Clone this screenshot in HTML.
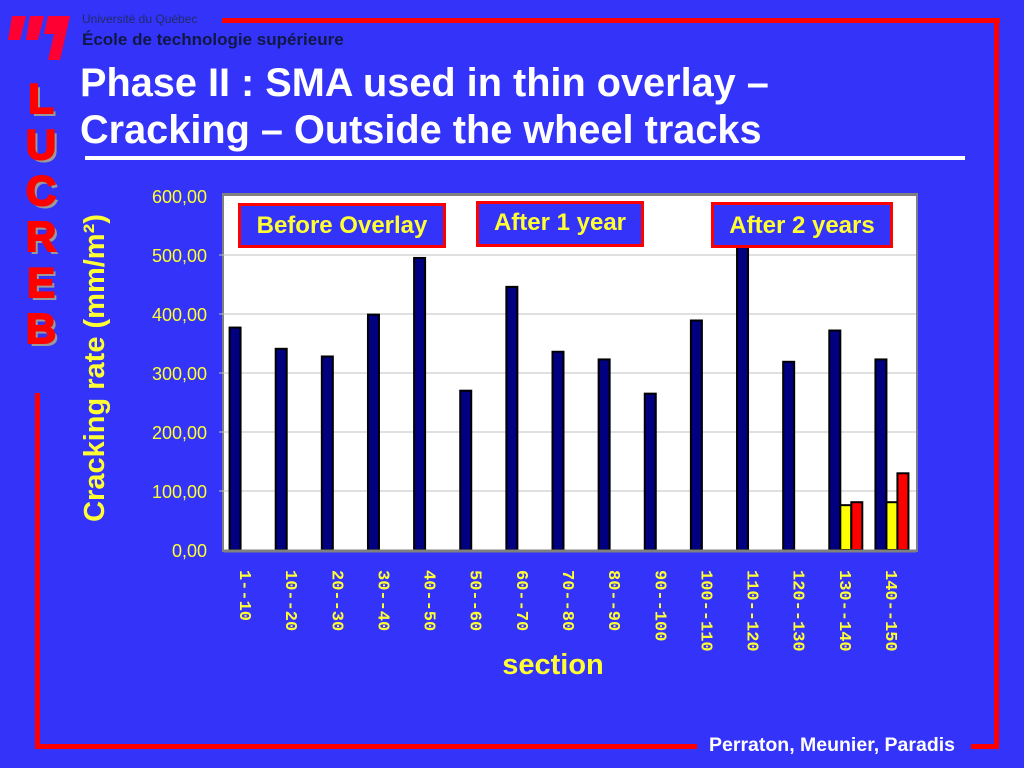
<!DOCTYPE html>
<html><head><meta charset="utf-8"><style>
body{margin:0;width:1024px;height:768px;background:#3333f9;overflow:hidden;font-family:"Liberation Sans",sans-serif;position:relative}
.abs{position:absolute}
.red{background:#f00}
.leg{position:absolute;background:#3333f9;border:3px solid #f00;color:#ffff33;font-weight:bold;font-size:24px;text-align:center;box-sizing:border-box;white-space:nowrap}
</style></head><body>
<div class="abs red" style="left:222px;top:18px;width:778px;height:5px"></div>
<div class="abs red" style="left:994px;top:18px;width:5px;height:731px"></div>
<div class="abs red" style="left:35px;top:744px;width:662px;height:5px"></div>
<div class="abs red" style="left:971px;top:744px;width:28px;height:5px"></div>
<div class="abs red" style="left:35px;top:393px;width:5px;height:356px"></div>
<svg class="abs" style="left:8px;top:14px" width="64" height="48">
<polygon points="4,2 18,2 12,26 0,26" fill="#f03"/><polygon points="22,2 36,2 30,26 18,26" fill="#f03"/><polygon points="40,2 62,2 52,46 40,46 46,20 36,20" fill="#f03"/></svg>
<div class="abs" style="left:82px;top:12px;font-size:12px;color:#222a66">Université du Québec</div>
<div class="abs" style="left:82px;top:30px;font-size:17px;font-weight:bold;color:#111844">École de technologie supérieure</div>
<div class="abs" style="left:18px;top:76px;width:46px;font-size:42px;font-weight:900;color:#f00;line-height:46px;text-align:center;text-shadow:3px 3px 0 #999;-webkit-text-stroke:2px #f00">L<br>U<br>C<br>R<br>E<br>B</div>
<div class="abs" style="left:80px;top:60px;font-size:39.7px;font-weight:bold;color:#fff;line-height:47px;white-space:nowrap">Phase II : SMA used in thin overlay –<br>Cracking – Outside the wheel tracks</div>
<div class="abs" style="left:85px;top:156px;width:880px;height:4px;background:#fff"></div>
<div class="abs" style="left:709px;top:734px;font-size:19.5px;font-weight:bold;color:#fff;white-space:nowrap">Perraton, Meunier, Paradis</div>
<svg class="abs" style="left:0;top:0" width="1024" height="768" id="chart"></svg>
<div class="leg" style="left:238px;top:203px;width:208px;height:45px;line-height:39px">Before Overlay</div>
<div class="leg" style="left:476px;top:201px;width:168px;height:46px;line-height:38px">After 1 year</div>
<div class="leg" style="left:711px;top:202px;width:182px;height:46px;line-height:42px">After 2 years</div>
<script>
const categories=["1--10","10--20","20--30","30--40","40--50","50--60","60--70","70--80","80--90","90--100","100--110","110--120","120--130","130--140","140--150"];
const before=[377,341,328,399,495,270,446,336,323,265,389,540,319,372,323];
const after1=[0,0,0,0,0,0,0,0,0,0,0,0,0,76,81];
const after2=[0,0,0,0,0,0,0,0,0,0,0,0,0,81,130];
const yTicks=[0,100,200,300,400,500,600];
const yLabels=["0,00","100,00","200,00","300,00","400,00","500,00","600,00"];
const NS="http://www.w3.org/2000/svg";
const svg=document.getElementById('chart');
const L=224,R=916,T=196,B=550,ymax=600;
const y=v=>B-(v/ymax)*(B-T);
const bw=(R-L)/categories.length;
const x=i=>L+i*bw;
function mk(t,a){const e=document.createElementNS(NS,t);for(const k in a)e.setAttribute(k,a[k]);svg.appendChild(e);return e;}
let e=mk('rect',{x:L-2,y:T-3,width:R-L+4,height:B-T+5,fill:'#808080'});


e=mk('rect',{x:L,y:T,width:R-L,height:B-T,fill:'#fff'});


yTicks.forEach((v,i)=>{
 if(v>0&&v<ymax){e=mk('line',{x1:L-5,x2:R,y1:y(v),y2:y(v),stroke:'#c0c0c0','stroke-width':1});
 
 }
 e=mk('text',{x:207,y:y(v)+7,'text-anchor':'end',fill:'#ffff33','font-size':18,'font-family':'Liberation Sans'});
 e.textContent=yLabels[i];
 
 
});
const sw=11,off=(bw-3*sw)/2-1;
categories.forEach((c,i)=>{
 [[before,'#000080'],[after1,'#ffff00'],[after2,'#ff0000']].forEach((s,j)=>{
  const v=s[0][i]; if(!v)return;
  e=mk('rect',{x:x(i)+off+j*sw,y:y(v),width:sw,height:B-y(v),fill:s[1],stroke:'#000','stroke-width':2});
  
  
 });
 e=mk('text',{transform:`translate(${x(i)+bw/2-7},570) rotate(90)`,fill:'#ffff33','font-size':17,'font-weight':'bold','font-family':'Liberation Mono'});
 e.textContent=c;
 
 
});
e=mk('line',{x1:L,x2:R,y1:B+1,y2:B+1,stroke:'#808080','stroke-width':3});


e=mk('text',{x:553,y:674,'text-anchor':'middle',fill:'#ffff33','font-size':29,'font-weight':'bold','font-family':'Liberation Sans'});
e.textContent='section';


e=mk('text',{transform:'translate(104,368) rotate(-90)','text-anchor':'middle',fill:'#ffff33','font-size':29,'font-weight':'bold','font-family':'Liberation Sans'});
e.textContent='Cracking rate (mm/m²)';


</script>
</body></html>
